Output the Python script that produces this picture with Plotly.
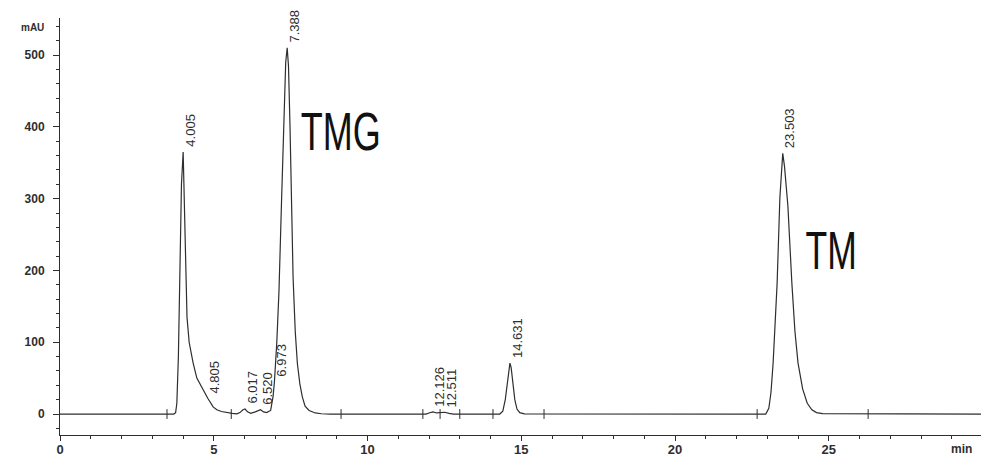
import numpy as np
import plotly.graph_objects as go

# Chromatogram trace: retention time (min) and absorbance (mAU)
time_min = [
    0.0, 3.46, 3.70, 3.76, 3.80, 3.85, 3.90, 3.95, 4.005, 4.05, 4.10, 4.13, 4.20,
    4.33, 4.45, 4.65, 4.805, 4.98, 5.10, 5.25, 5.40, 5.60, 5.75, 5.85, 5.95,
    6.017, 6.10, 6.20, 6.35, 6.45, 6.52, 6.62, 6.72, 6.80, 6.85, 6.93, 6.973,
    7.05, 7.12, 7.20, 7.28, 7.34, 7.388, 7.43, 7.48, 7.53, 7.58, 7.65, 7.72,
    7.80, 7.88, 7.97, 8.10, 8.30, 8.50, 8.80, 11.90, 12.00, 12.126, 12.25,
    12.40, 12.511, 12.65, 12.80, 14.30, 14.40, 14.48, 14.55, 14.60, 14.631,
    14.67, 14.72, 14.79, 14.86, 14.95, 15.10, 22.95, 23.05, 23.12, 23.19,
    23.26, 23.32, 23.41, 23.45, 23.503, 23.56, 23.67, 23.80, 23.90, 24.00,
    24.15, 24.30, 24.45, 24.60, 24.80, 30.0,
]
absorbance_mau = [
    0, 0, 0, 2, 15, 80, 200, 320, 365, 290, 180, 135, 100,
    71, 50, 33, 22, 10, 6, 3.5, 2, 0.8, 0.3, 2, 6,
    7, 3, 1, 3, 5, 6, 3, 2, 4, 5, 25, 45,
    100, 170, 290, 420, 490, 510, 485, 400, 280, 190, 115, 70,
    42, 24, 11, 5, 1.5, 0.4, 0, 0, 1.5, 3, 1.5,
    2, 2.5, 1, 0, 0, 4, 20, 45, 65, 71,
    65, 45, 20, 7, 2, 0.3, 0, 8, 30, 71,
    125, 182, 302, 335, 363, 345, 290, 182, 115, 71,
    35, 15, 6, 2, 0.5, 0,
]

# Labelled peaks (retention times)
peak_times = [4.005, 4.805, 6.017, 6.520, 6.973, 7.388, 12.126, 12.511, 14.631, 23.503]
peak_labels = ["4.005", "4.805", "6.017", "6.520", "6.973", "7.388",
               "12.126", "12.511", "14.631", "23.503"]

# Integration start/end markers on the baseline
event_times = [3.48, 5.57, 9.14, 11.80, 12.36, 13.00, 14.08, 15.74, 22.67, 26.28]

# Compound names and where they sit
compound_names = ["TMG", "TM"]
compound_time = [9.14, 25.1]
compound_mau = [394, 228]

x_ticks = [0, 5, 10, 15, 20, 25]
y_ticks = [0, 100, 200, 300, 400, 500]

ink = "#2e2e2e"
sans = "Liberation Sans, Arial, sans-serif"

fig = go.Figure()
fig.add_trace(go.Scatter(
    x=time_min, y=absorbance_mau, mode="lines",
    line=dict(color=ink, width=1.2), hoverinfo="skip", showlegend=False,
))
fig.add_trace(go.Scatter(
    x=event_times, y=[0] * len(event_times), mode="markers",
    marker=dict(symbol="line-ns", size=7, line=dict(color=ink, width=1)),
    hoverinfo="skip", showlegend=False,
))

annotations = []
for t, lab in zip(peak_times, peak_labels):
    base = float(np.interp(t, time_min, absorbance_mau))
    annotations.append(dict(
        x=t, y=base, xref="x", yref="y", text=lab, showarrow=False,
        textangle=-90, xanchor="center", yanchor="bottom",
        xshift=7, yshift=3, font=dict(family=sans, size=13, color=ink),
    ))
for name, t, v in zip(compound_names, compound_time, compound_mau):
    annotations.append(dict(
        x=t, y=v, xref="x", yref="y", text=name, showarrow=False,
        xanchor="center", yanchor="middle",
        font=dict(family=sans, size=53, color="#111111"),
    ))
annotations.append(dict(
    x=0, y=539, xref="x", yref="y", text="<b>mAU</b>", showarrow=False,
    xanchor="right", yanchor="middle", xshift=-14,
    font=dict(family=sans, size=10, color=ink),
))
annotations.append(dict(
    x=29.33, y=0, xref="x", yref="paper", text="<b>min</b>", showarrow=False,
    xanchor="center", yanchor="top", yshift=-6, borderpad=0,
    font=dict(family=sans, size=12, color=ink),
))

fig.update_layout(
    width=981, height=457,
    margin=dict(l=60, r=0, t=18, b=22),
    paper_bgcolor="white", plot_bgcolor="white",
    annotations=annotations,
    xaxis=dict(
        range=[0, 29.95], tickvals=x_ticks, ticktext=[str(v) for v in x_ticks],
        showgrid=False, zeroline=False, showline=True, linecolor=ink, linewidth=1,
        ticks="outside", ticklen=5, tickcolor=ink, automargin=False,
        ticklabelstandoff=-3,
        minor=dict(dtick=1, ticks="outside", ticklen=3, tickcolor=ink),
        tickfont=dict(family=sans, size=13, color=ink, weight="bold"),
    ),
    yaxis=dict(
        range=[-29.2, 551.6], tickvals=y_ticks, ticktext=[str(v) for v in y_ticks],
        showgrid=False, zeroline=False, showline=True, linecolor=ink, linewidth=1,
        ticks="outside", ticklen=6, tickcolor=ink, automargin=False,
        ticklabelstandoff=6,
        minor=dict(dtick=20, ticks="outside", ticklen=3, tickcolor=ink),
        tickfont=dict(family=sans, size=12, color=ink, weight="bold"),
    ),
)

# The compound names are set in a tall, condensed face: narrow them horizontally
condense_js = """
var gd = document.getElementById('{plot_id}');
function condenseNames() {
  var names = {TMG: 0.68, TM: 0.67};
  gd.querySelectorAll('text.annotation-text').forEach(function (el) {
    var s = names[el.textContent];
    if (!s || el.getAttribute('data-condensed')) { return; }
    var b = el.getBBox();
    var cx = b.x + b.width / 2;
    var prev = el.getAttribute('transform') || '';
    el.setAttribute('transform', prev + ' translate(' + cx + ',0) scale(' + s + ',1) translate(' + (-cx) + ',0)');
    el.setAttribute('data-condensed', '1');
  });
}
condenseNames();
gd.on('plotly_afterplot', condenseNames);
"""

fig.write_html("out.html", post_script=condense_js)
